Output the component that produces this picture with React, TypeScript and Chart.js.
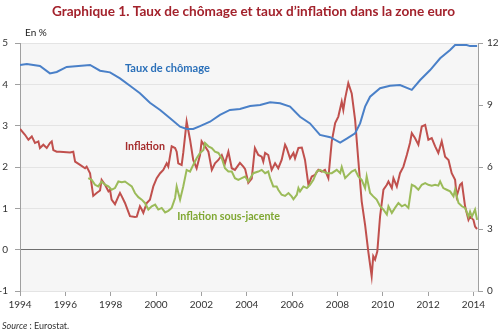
import React, { useEffect, useRef } from "react";
import { Chart, registerables } from "chart.js";
Chart.register(...registerables);

const TITLE = "Graphique 1. Taux de chômage et taux d\u2019inflation dans la zone euro";
const UNIT = "En %";
const SOURCE_ITALIC = "Source";
const SOURCE_REST = " : Eurostat.";

const yearTicks = [1994, 1996, 1998, 2000, 2002, 2004, 2006, 2008, 2010, 2012, 2014];
const leftTicks = [-1, 0, 1, 2, 3, 4, 5];
const rightTicks = [0, 3, 6, 9, 12];

const unemploymentYears = [
  1994.0, 1994.3, 1994.88, 1995.32, 1995.62, 1996.06, 1997.09, 1997.53, 1997.97, 1998.41,
  1998.85, 1999.29, 1999.73, 2000.18, 2000.62, 2001.06, 2001.35, 2001.64, 2001.94, 2002.38,
  2002.82, 2003.26, 2003.7, 2004.15, 2004.59, 2005.03, 2005.47, 2005.91, 2006.35, 2006.79,
  2007.23, 2007.68, 2008.12, 2008.41, 2008.78, 2009.0, 2009.22, 2009.44, 2009.88, 2010.32,
  2010.76, 2011.28, 2011.65, 2012.09, 2012.53, 2012.97, 2013.19, 2013.7, 2013.85, 2014.16,
];
const unemploymentRate = [
  10.94, 10.98, 10.89, 10.53, 10.6, 10.84, 10.94, 10.66, 10.58, 10.29,
  9.93, 9.57, 9.11, 8.76, 8.36, 7.95, 7.84, 7.84, 7.98, 8.19,
  8.52, 8.76, 8.81, 8.95, 9.0, 9.13, 9.08, 8.92, 8.43, 8.11,
  7.55, 7.44, 7.18, 7.37, 7.63, 8.11, 8.92, 9.4, 9.81, 9.93,
  9.97, 9.73, 10.21, 10.69, 11.26, 11.66, 11.9, 11.9, 11.85, 11.85,
];

const inflationYears = [
  1994.0, 1994.22, 1994.37, 1994.52, 1994.66, 1994.81, 1994.88, 1995.03, 1995.18, 1995.32,
  1995.4, 1995.47, 1995.62, 1995.76, 1996.21, 1996.35, 1996.43, 1996.65, 1996.87, 1996.94,
  1997.09, 1997.16, 1997.23, 1997.38, 1997.53, 1997.6, 1997.75, 1997.9, 1997.97, 1998.04,
  1998.19, 1998.34, 1998.41, 1998.49, 1998.63, 1998.85, 1999.07, 1999.15, 1999.29, 1999.37,
  1999.44, 1999.59, 1999.73, 1999.88, 2000.03, 2000.18, 2000.32, 2000.47, 2000.54, 2000.69,
  2000.84, 2000.91, 2000.98, 2001.13, 2001.2, 2001.35, 2001.5, 2001.64, 2001.79, 2001.94,
  2002.01, 2002.16, 2002.31, 2002.46, 2002.6, 2002.75, 2002.9, 2003.04, 2003.19, 2003.34,
  2003.48, 2003.7, 2003.85, 2003.93, 2004.07, 2004.22, 2004.36, 2004.51, 2004.66, 2004.73,
  2004.81, 2004.95, 2005.1, 2005.25, 2005.39, 2005.54, 2005.69, 2005.76, 2005.91, 2006.06,
  2006.13, 2006.28, 2006.43, 2006.57, 2006.72, 2006.87, 2007.01, 2007.16, 2007.31, 2007.45,
  2007.6, 2007.75, 2007.9, 2008.04, 2008.19, 2008.26, 2008.34, 2008.48, 2008.63, 2008.78,
  2008.92, 2009.07, 2009.22, 2009.36, 2009.51, 2009.58, 2009.66, 2009.76, 2009.88, 2010.03,
  2010.18, 2010.25, 2010.4, 2010.47, 2010.62, 2010.76, 2010.91, 2011.06, 2011.2, 2011.28,
  2011.42, 2011.57, 2011.72, 2011.87, 2012.01, 2012.16, 2012.31, 2012.45, 2012.6, 2012.75,
  2012.9, 2013.04, 2013.19, 2013.26, 2013.41, 2013.49, 2013.63, 2013.78, 2013.85, 2014.0,
  2014.07, 2014.16,
];
const inflationRate = [
  2.92, 2.78, 2.66, 2.74, 2.58, 2.62, 2.46, 2.54, 2.46, 2.58,
  2.62, 2.41, 2.37, 2.37, 2.35, 2.37, 2.13, 2.05, 1.97, 2.01,
  1.85, 1.57, 1.3, 1.37, 1.43, 1.69, 1.57, 1.41, 1.45, 1.21,
  1.1, 1.29, 1.37, 1.29, 1.13, 0.81, 0.79, 0.8, 1.05, 0.97,
  0.89, 1.13, 1.21, 1.53, 1.73, 1.85, 1.93, 2.09, 2.01, 2.5,
  2.46, 2.37, 2.09, 2.05, 2.34, 3.1, 2.66, 2.17, 1.97, 2.29,
  2.62, 2.5, 2.37, 1.93, 2.09, 2.17, 2.29, 2.09, 2.37, 1.97,
  1.93, 2.1, 2.01, 1.95, 1.62, 1.72, 2.46, 2.29, 2.25, 2.13,
  2.34, 2.29, 1.93, 2.09, 1.97, 2.17, 2.54, 2.46, 2.21, 2.34,
  2.21, 2.46, 2.47, 2.17, 1.57, 1.77, 1.81, 1.93, 1.89, 1.93,
  1.73, 2.62, 3.06, 3.22, 3.58, 3.38, 3.66, 4.03, 3.78, 3.14,
  2.17, 1.17, 0.6, -0.04, -0.64, -0.16, -0.24, -0.04, 0.8, 1.45,
  1.57, 1.65, 1.49, 1.73, 1.53, 1.85, 2.01, 2.29, 2.58, 2.82,
  2.7, 2.54, 2.98, 3.02, 2.66, 2.7, 2.5, 2.34, 2.62, 2.25,
  2.17, 1.85, 1.69, 1.29, 1.57, 1.61, 1.05, 0.72, 0.8, 0.72,
  0.56, 0.5,
];

const coreYears = [
  1997.01, 1997.16, 1997.31, 1997.45, 1997.6, 1997.75, 1997.9, 1998.04, 1998.19, 1998.34,
  1998.49, 1998.63, 1998.78, 1998.93, 1999.07, 1999.22, 1999.37, 1999.51, 1999.66, 1999.81,
  1999.96, 2000.1, 2000.25, 2000.4, 2000.54, 2000.69, 2000.84, 2000.91, 2001.06, 2001.2,
  2001.35, 2001.5, 2001.64, 2001.79, 2001.94, 2002.09, 2002.16, 2002.31, 2002.46, 2002.6,
  2002.75, 2002.9, 2003.04, 2003.19, 2003.34, 2003.48, 2003.63, 2003.78, 2003.93, 2004.07,
  2004.29, 2004.51, 2004.66, 2004.81, 2004.95, 2005.03, 2005.17, 2005.32, 2005.39, 2005.54,
  2005.69, 2005.84, 2005.98, 2006.06, 2006.21, 2006.28, 2006.35, 2006.5, 2006.65, 2006.79,
  2006.94, 2007.09, 2007.23, 2007.38, 2007.53, 2007.75, 2007.97, 2008.12, 2008.19, 2008.34,
  2008.48, 2008.63, 2008.78, 2008.92, 2009.07, 2009.22, 2009.29, 2009.44, 2009.58, 2009.73,
  2009.88, 2010.03, 2010.18, 2010.25, 2010.4, 2010.54, 2010.69, 2010.84, 2010.98, 2011.13,
  2011.28, 2011.42, 2011.57, 2011.72, 2011.87, 2012.01, 2012.16, 2012.31, 2012.45, 2012.53,
  2012.67, 2012.82, 2012.97, 2013.12, 2013.19, 2013.34, 2013.49, 2013.63, 2013.78, 2013.85,
  2013.93, 2014.07, 2014.16,
];
const coreRate = [
  1.73, 1.69, 1.57, 1.53, 1.65, 1.57, 1.53, 1.45, 1.49, 1.65,
  1.63, 1.65, 1.59, 1.53, 1.37, 1.27, 1.21, 1.13, 0.97, 1.05,
  1.09, 0.97, 1.01, 0.9, 0.94, 1.01, 1.25, 1.53, 1.21, 1.53,
  1.93, 1.89, 2.05, 2.21, 2.34, 2.41, 2.58, 2.5, 2.46, 2.37,
  2.34, 2.21, 1.97, 1.89, 1.89, 1.73, 1.69, 1.73, 1.77, 1.65,
  1.85, 1.89, 1.93, 1.85, 1.89, 1.73, 1.53, 1.53, 1.45, 1.33,
  1.3, 1.37, 1.29, 1.22, 1.33, 1.49, 1.41, 1.53, 1.49, 1.57,
  1.69, 1.89, 1.93, 1.89, 1.85, 1.85, 1.93, 1.85, 2.0, 1.73,
  1.81, 1.89, 1.93, 1.77, 1.69, 1.49, 1.77, 1.37, 1.29, 1.21,
  1.05, 0.97, 0.85, 1.05, 0.89, 1.01, 1.13, 1.05, 1.09, 1.01,
  1.57, 1.53, 1.45, 1.57, 1.61, 1.57, 1.55, 1.57, 1.55, 1.65,
  1.49, 1.45, 1.41, 1.29, 1.45, 1.13, 1.05, 1.01, 0.8, 0.92,
  0.8, 0.97, 0.72,
];

const labelUnemployment = { text: "Taux de chômage", year: 2000.5, value: 10.79 };
const labelInflation = { text: "Inflation", year: 1999.51, value: 2.49 };
const labelCore = { text: "Inflation sous-jacente", year: 2003.2, value: 0.8 };

const FAMILY = 'Lato, "Open Sans", "DejaVu Sans", sans-serif';

function fitFont(ctx: CanvasRenderingContext2D, text: string, style: string, weight: string, targetW: number) {
  ctx.font = `${style} ${weight} 20px ${FAMILY}`;
  const w = ctx.measureText(text).width;
  const size = (20 * targetW) / w;
  ctx.font = `${style} ${weight} ${size.toFixed(2)}px ${FAMILY}`;
}

const toPoints = (xs: number[], ys: number[]) => xs.map((x, i) => ({ x, y: ys[i] }));

const decor = {
  id: "decor",
  beforeDraw(chart: any) {
    const { ctx, chartArea: a } = chart;
    ctx.save();
    ctx.fillStyle = "#ffffff";
    ctx.fillRect(0, 0, chart.width, chart.height);
    ctx.fillStyle = "#f6f6f6";
    ctx.fillRect(a.left, a.top, a.right - a.left, a.bottom - a.top);
    ctx.restore();
  },
  afterDraw(chart: any) {
    const { ctx } = chart;
    const xS = chart.scales.x;
    const yL = chart.scales.y;
    const yR = chart.scales.y2;
    ctx.save();
    ctx.textBaseline = "middle";
    // title
    ctx.textAlign = "center";
    ctx.fillStyle = "#a3222c";
    fitFont(ctx, TITLE, "normal", "bold", 403);
    ctx.fillText(TITLE, 253.5, 12);
    // unit
    ctx.textAlign = "left";
    ctx.fillStyle = "#222222";
    ctx.font = `normal normal 10px ${FAMILY}`;
    ctx.fillText(UNIT, 25, 32.5);
    // source
    ctx.fillStyle = "#333333";
    ctx.font = `italic normal 9px ${FAMILY}`;
    ctx.fillText(SOURCE_ITALIC, 2, 326);
    const wI = ctx.measureText(SOURCE_ITALIC).width;
    ctx.font = `normal normal 9px ${FAMILY}`;
    ctx.fillText(SOURCE_REST, 2 + wI, 326);
    // series labels
    ctx.textAlign = "center";
    ctx.fillStyle = "#2b70b9";
    fitFont(ctx, labelUnemployment.text, "normal", "bold", 85);
    ctx.fillText(labelUnemployment.text, xS.getPixelForValue(labelUnemployment.year), yR.getPixelForValue(labelUnemployment.value));
    ctx.fillStyle = "#a52c2c";
    fitFont(ctx, labelInflation.text, "normal", "bold", 40);
    ctx.fillText(labelInflation.text, xS.getPixelForValue(labelInflation.year), yL.getPixelForValue(labelInflation.value));
    ctx.fillStyle = "#7fa732";
    fitFont(ctx, labelCore.text, "normal", "bold", 103);
    ctx.fillText(labelCore.text, xS.getPixelForValue(labelCore.year), yL.getPixelForValue(labelCore.value));
    ctx.restore();
  },
};

export default function App() {
  const ref = useRef<HTMLCanvasElement | null>(null);
  useEffect(() => {
    document.body.style.margin = "0";
    const canvas = ref.current!;
    const tickFont = { family: FAMILY, size: 10 };
    const chart = new Chart(canvas, {
      type: "line",
      data: {
        datasets: [
          {
            label: "Taux de chômage",
            data: toPoints(unemploymentYears, unemploymentRate),
            yAxisID: "y2",
            borderColor: "#4a80c8",
            borderWidth: 2,
            pointRadius: 0,
            tension: 0,
          },
          {
            label: "Inflation sous-jacente",
            data: toPoints(coreYears, coreRate),
            yAxisID: "y",
            borderColor: "#9bbb59",
            borderWidth: 2,
            pointRadius: 0,
            tension: 0,
          },
          {
            label: "Inflation",
            data: toPoints(inflationYears, inflationRate),
            yAxisID: "y",
            borderColor: "#c0504d",
            borderWidth: 2,
            pointRadius: 0,
            tension: 0,
          },
        ],
      },
      options: {
        responsive: false,
        animation: false,
        layout: { padding: { top: 43, left: 0, right: 0, bottom: 0 } },
        plugins: { legend: { display: false }, tooltip: { enabled: false }, title: { display: false } },
        scales: {
          x: {
            type: "linear",
            min: 1994,
            max: 2014.2,
            afterBuildTicks: (s: any) => {
              s.ticks = yearTicks.map((v) => ({ value: v }));
            },
            afterFit: (s: any) => {
              s.height = 45;
            },
            ticks: { font: tickFont, color: "#333333", padding: 3, maxRotation: 0, autoSkip: false, callback: (v: any) => String(v) },
            grid: { drawOnChartArea: false, drawTicks: true, tickLength: 5, tickColor: "#a0a0a0" },
            border: { display: false },
          },
          y: {
            position: "left",
            min: -1,
            max: 5,
            afterBuildTicks: (s: any) => {
              s.ticks = leftTicks.map((v) => ({ value: v }));
            },
            afterFit: (s: any) => {
              s.width = 20;
            },
            ticks: { font: tickFont, color: "#333333", padding: 7, callback: (v: any) => String(v) },
            grid: {
              color: (c: any) => (c.tick && c.tick.value === 0 ? "#6f6f6f" : "#e4e4e4"),
              lineWidth: 1,
              drawTicks: true,
              tickLength: 5,
              tickColor: "#a0a0a0",
            },
            border: { display: true, color: "#a0a0a0" },
          },
          y2: {
            position: "right",
            min: 0,
            max: 12,
            afterBuildTicks: (s: any) => {
              s.ticks = rightTicks.map((v) => ({ value: v }));
            },
            afterFit: (s: any) => {
              s.width = 22;
            },
            ticks: { font: tickFont, color: "#333333", padding: 4, callback: (v: any) => String(v) },
            grid: { drawOnChartArea: false, drawTicks: true, tickLength: 5, tickColor: "#a0a0a0" },
            border: { display: true, color: "#a0a0a0" },
          },
        },
      },
      plugins: [decor],
    } as any);
    return () => chart.destroy();
  }, []);
  return (
    <div style={{ position: "absolute", left: 0, top: 0, width: 500, height: 336 }}>
      <canvas ref={ref} width={500} height={336} style={{ width: 500, height: 336, display: "block" }} />
    </div>
  );
}
